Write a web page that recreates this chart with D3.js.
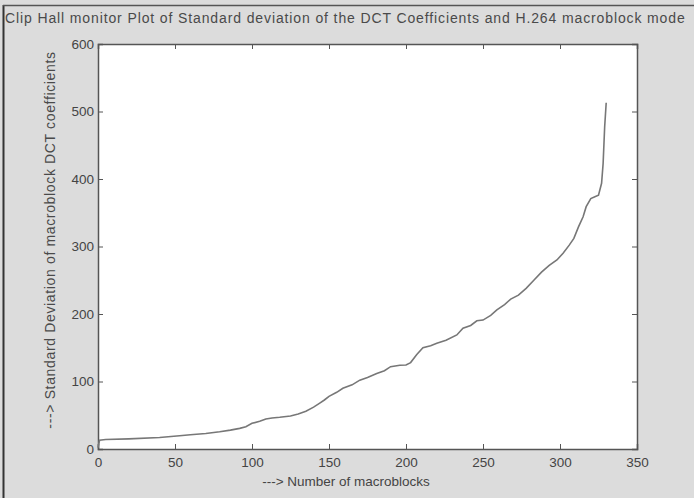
<!DOCTYPE html>
<html>
<head>
<meta charset="utf-8">
<script src="https://cdn.jsdelivr.net/npm/d3@7"></script>
<style>
  body { margin: 0; background: #dcdcdc; }
  svg { display: block; font-family: "Liberation Sans", Arial, sans-serif; }
</style>
</head>
<body>
<div class="Chart"></div>
<script>
// Sorted std-dev curve as [macroblock index, std dev]
const blockIndex = [0, 1, 5, 20, 40, 53, 60, 70, 79, 86, 92, 96, 100, 105, 109, 113, 118, 125, 130, 135, 140, 144, 147, 150, 155, 159, 165, 170, 175, 181, 186, 190, 196, 200, 203, 207, 211, 216, 220, 226, 233, 237, 242, 246, 250, 255, 259, 264, 268, 273, 278, 283, 288, 293, 298, 302, 306, 309, 312, 315, 317, 320, 323, 325, 327, 328, 329, 330];
const stdDev = [2, 13, 14, 15, 17, 19.7, 21, 23, 25.6, 28, 30.6, 33, 38, 41, 44.4, 46, 47, 49, 52, 56, 62, 68, 72.6, 78, 84, 90, 95, 102, 106, 112, 116, 122, 124, 124.4, 128, 140, 150, 153, 156.6, 161, 169, 179, 183, 190, 191, 198, 206, 214, 222, 228, 238, 250, 262, 272, 280, 290, 302, 312, 329, 344, 359, 371, 374, 376, 393.6, 423, 477, 513];
const xTicks = [0, 50, 100, 150, 200, 250, 300, 350];
const yTicks = [0, 100, 200, 300, 400, 500, 600];

const titleText = "Clip Hall monitor Plot of Standard deviation of the DCT Coefficients and H.264 macroblock mode";
const xLabel = "---> Number of macroblocks";
const yLabel = "---> Standard Deviation of macroblock DCT coefficients";

const WIDTH = 694, HEIGHT = 498;
const margin = { left: 98, right: 57, top: 44, bottom: 49 };

const svg = d3.select(".Chart").append("svg")
  .attr("width", WIDTH).attr("height", HEIGHT);

// scan background + frame
svg.append("rect").attr("width", WIDTH).attr("height", HEIGHT).attr("fill", "#dcdcdc");
svg.append("line").attr("x1", 3.5).attr("x2", 3.5).attr("y1", 5).attr("y2", HEIGHT)
  .attr("stroke", "#333").attr("stroke-width", 2);
svg.append("line").attr("x1", 3).attr("x2", WIDTH).attr("y1", 5.5).attr("y2", 5.5)
  .attr("stroke", "#555").attr("stroke-width", 1.5);

// SCALES
const xScale = d3.scaleLinear().domain([0, 350]).range([margin.left, WIDTH - margin.right]);
const yScale = d3.scaleLinear().domain([0, 600]).range([HEIGHT - margin.bottom, margin.top]);

// plot area
svg.append("rect")
  .attr("x", xScale(0)).attr("y", yScale(600))
  .attr("width", xScale(350) - xScale(0)).attr("height", yScale(0) - yScale(600))
  .attr("fill", "#fff");

const axisColor = "#555";
const tickLen = 5;

// axes (MATLAB style: ticks inside, on all four sides)
const axisBottomG = svg.append("g").attr("transform", `translate(0,${yScale(0)})`)
  .call(d3.axisBottom(xScale).tickValues(xTicks).tickSize(-tickLen).tickPadding(8));
const axisTopG = svg.append("g").attr("transform", `translate(0,${yScale(600)})`)
  .call(d3.axisTop(xScale).tickValues(xTicks).tickSize(-tickLen).tickFormat(""));
const axisLeftG = svg.append("g").attr("transform", `translate(${xScale(0)},0)`)
  .call(d3.axisLeft(yScale).tickValues(yTicks).tickSize(-tickLen).tickPadding(4));
const axisRightG = svg.append("g").attr("transform", `translate(${xScale(350)},0)`)
  .call(d3.axisRight(yScale).tickValues(yTicks).tickSize(-tickLen).tickFormat(""));

[axisBottomG, axisTopG, axisLeftG, axisRightG].forEach((g) => {
  g.select(".domain").attr("stroke", axisColor).attr("stroke-width", 1.5);
  g.selectAll(".tick line").attr("stroke", axisColor);
  g.selectAll(".tick text").attr("fill", "#444")
    .style("font-size", "13.5px").style("font-family", "'Liberation Sans', Arial, sans-serif");
});

// curve
const points = blockIndex.map((x, i) => [x, stdDev[i]]);
svg.append("path")
  .datum(points)
  .attr("fill", "none")
  .attr("stroke", "#777")
  .attr("stroke-width", 1.6)
  .attr("d", d3.line().x((d) => xScale(d[0])).y((d) => yScale(d[1])));

// texts
svg.append("text")
  .attr("x", 5).attr("y", 23)
  .attr("fill", "#4a4a4a")
  .style("font-size", "14px")
  .style("letter-spacing", "0.88px")
  .text(titleText);

svg.append("text")
  .attr("x", 346).attr("y", 486)
  .attr("text-anchor", "middle")
  .attr("fill", "#444")
  .style("font-size", "13.5px")
  .text(xLabel);

svg.append("text")
  .attr("transform", `translate(55,240) rotate(-90)`)
  .attr("text-anchor", "middle")
  .attr("fill", "#4a4a4a")
  .style("font-size", "14px")
  .style("letter-spacing", "0.65px")
  .text(yLabel);
</script>
</body>
</html>
